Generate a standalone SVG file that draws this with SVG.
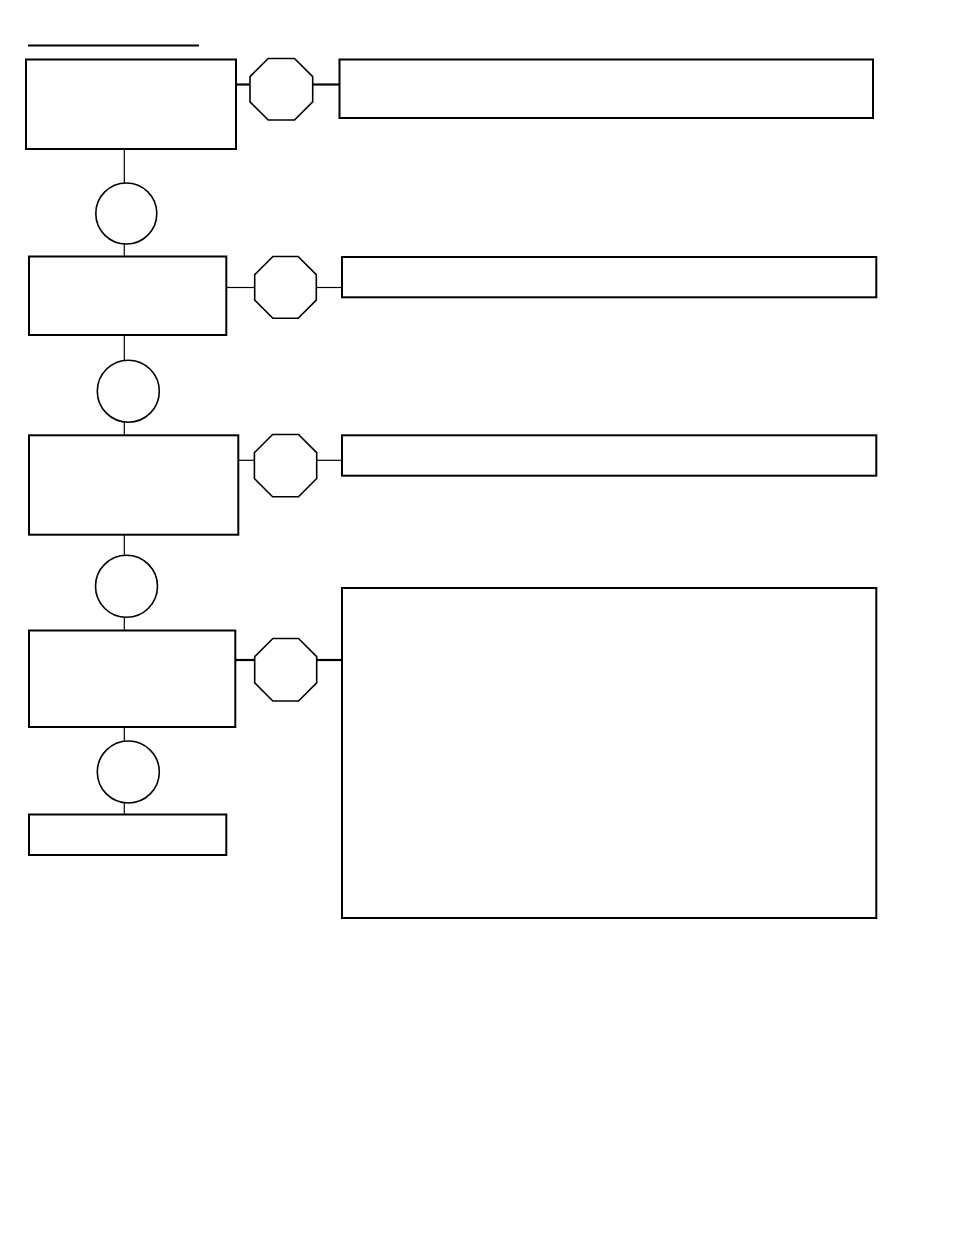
<svg xmlns="http://www.w3.org/2000/svg" width="954" height="1235" viewBox="0 0 954 1235">
<style>
.box{fill:#fff;stroke:#000;stroke-width:2}
.oct{fill:#fff;stroke:#000;stroke-width:1.6}
.circ{fill:#fff;stroke:#000;stroke-width:1.6}
.thin{stroke:#000;stroke-width:1.2;fill:none}
.thick{stroke:#000;stroke-width:2.2;fill:none}
</style>
<rect width="954" height="1235" fill="#fff"/>
<line x1="28" y1="45.5" x2="199" y2="45.5" stroke="#000" stroke-width="2"/>
<g id="connectors">
<line class="thick" x1="236" y1="84.5" x2="250" y2="84.5"/>
<line class="thick" x1="313" y1="84.5" x2="339" y2="84.5"/>
<line class="thin" x1="124.3" y1="149" x2="124.3" y2="183"/>
<line class="thin" x1="124.3" y1="244" x2="124.3" y2="256"/>
<line class="thin" x1="226" y1="287.5" x2="255" y2="287.5"/>
<line class="thin" x1="316" y1="287.5" x2="342" y2="287.5"/>
<line class="thin" x1="124.3" y1="335" x2="124.3" y2="361"/>
<line class="thin" x1="124.3" y1="422" x2="124.3" y2="435"/>
<line class="thin" x1="238" y1="460.3" x2="254.5" y2="460.3"/>
<line class="thin" x1="316.5" y1="460.3" x2="342" y2="460.3"/>
<line class="thin" x1="124.3" y1="535" x2="124.3" y2="556"/>
<line class="thin" x1="124.3" y1="617" x2="124.3" y2="631"/>
<line class="thick" x1="235" y1="660" x2="255" y2="660"/>
<line class="thick" x1="316.5" y1="660" x2="342" y2="660"/>
<line class="thin" x1="124.3" y1="727" x2="124.3" y2="741"/>
<line class="thin" x1="124.3" y1="803" x2="124.3" y2="815"/>
</g>
<g id="box1"><rect class="box" x="26" y="59.5" width="210" height="89.5"/></g>
<g id="oct1"><polygon class="oct" points="268.2,58.5 294.5,58.5 312.7,76.7 312.7,101.8 294.5,120 268.2,120 250,101.8 250,76.7"/></g>
<g id="note1"><rect class="box" x="339.5" y="59.5" width="533.5" height="58.5"/></g>
<g id="circle1"><circle class="circ" cx="126.3" cy="213.5" r="30.5"/></g>
<g id="box2"><rect class="box" x="29" y="256.5" width="197.3" height="78.5"/></g>
<g id="oct2"><polygon class="oct" points="272.9,256.5 298.1,256.5 316.3,274.7 316.3,300.1 298.1,318.3 272.9,318.3 254.7,300.1 254.7,274.7"/></g>
<g id="note2"><rect class="box" x="342" y="257" width="534.3" height="40.3"/></g>
<g id="circle2"><circle class="circ" cx="128.3" cy="391.2" r="31"/></g>
<g id="box3"><rect class="box" x="29" y="435.3" width="209.3" height="99.4"/></g>
<g id="oct3"><polygon class="oct" points="272.6,434.5 298.5,434.5 316.7,452.7 316.7,478.5 298.5,496.7 272.6,496.7 254.4,478.5 254.4,452.7"/></g>
<g id="note3"><rect class="box" x="342" y="435.3" width="534.3" height="40.4"/></g>
<g id="circle3"><circle class="circ" cx="126.5" cy="586.3" r="31"/></g>
<g id="box4"><rect class="box" x="29" y="630.5" width="206.3" height="96.5"/></g>
<g id="oct4"><polygon class="oct" points="272.9,638.5 298.5,638.5 316.7,656.7 316.7,682.8 298.5,701 272.9,701 254.7,682.8 254.7,656.7"/></g>
<g id="note4"><rect class="box" x="342" y="588" width="534.3" height="330"/></g>
<g id="circle4"><circle class="circ" cx="128.3" cy="772" r="31"/></g>
<g id="box5"><rect class="box" x="29" y="814.5" width="197.3" height="40.5"/></g>
</svg>
